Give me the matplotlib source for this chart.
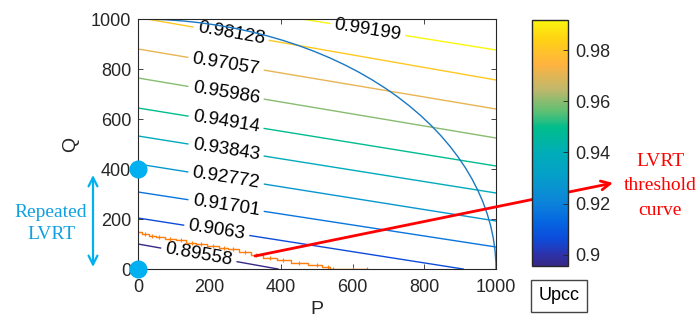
import numpy as np
import matplotlib
matplotlib.use("Agg")
import matplotlib.pyplot as plt
from matplotlib.colors import LinearSegmentedColormap, Normalize
from matplotlib.cm import ScalarMappable
from matplotlib.patches import Arc, FancyArrowPatch

# contour levels of Upcc and where each level line crosses the plot box
levels = [0.89558, 0.9063, 0.91701, 0.92772, 0.93843,
          0.94914, 0.95986, 0.97057, 0.98128, 0.99199]
line_p0 = [0, 0, 0, 0, 0, 0, 0, 0, 25, 458]
line_q0 = [100, 204, 308, 420, 532, 644, 764, 880, 1000, 1000]
line_p1 = [391, 908, 1000, 1000, 1000, 1000, 1000, 1000, 1000, 1000]
line_q1 = [0, 0, 88, 192, 304, 412, 524, 640, 756, 876]

# LVRT threshold curve
thr_p = [0, 20, 40, 60, 90, 120, 150, 175, 210, 240, 265, 300, 330,
         370, 405, 450, 500, 530, 545, 600, 640]
thr_q = [148, 140, 134, 128, 120, 115, 106, 100, 92, 86, 80, 68, 55,
         46, 36, 26, 16, 8, 2, 0, 0]

# repeated LVRT points
rep_p = [0, 0]
rep_q = [0, 400]

cbar_ticks = [0.90, 0.92, 0.94, 0.96, 0.98]
axis_ticks = [0, 200, 400, 600, 800, 1000]

# label placement along each level line (P coordinate)
label_p = [170, 220, 246, 246, 246, 246, 246, 246, 260, 642]

# parula-like colormap as seen in the colorbar
cmap = LinearSegmentedColormap.from_list("parula_like", [
    (0.00, (0.21, 0.16, 0.53)),
    (0.05, (0.17, 0.20, 0.68)),
    (0.11, (0.05, 0.30, 0.86)),
    (0.18, (0.02, 0.40, 0.88)),
    (0.26, (0.05, 0.52, 0.85)),
    (0.36, (0.02, 0.62, 0.79)),
    (0.46, (0.00, 0.68, 0.72)),
    (0.56, (0.00, 0.74, 0.55)),
    (0.63, (0.38, 0.75, 0.45)),
    (0.72, (0.76, 0.72, 0.42)),
    (0.82, (1.00, 0.70, 0.25)),
    (0.92, (1.00, 0.82, 0.08)),
    (1.00, (0.98, 0.97, 0.05)),
])
norm = Normalize(vmin=levels[0], vmax=levels[-1])

sans = "Liberation Sans"
serif = "Liberation Serif"
dark = "#262626"

fig = plt.figure(figsize=(6.97, 3.22), dpi=100)
ax = fig.add_axes([138 / 697, 1 - 269 / 322, 358 / 697, 250 / 322])
ax.set_xlim(0, 1000)
ax.set_ylim(0, 1000)

for i, lev in enumerate(levels):
    ax.plot([line_p0[i], line_p1[i]], [line_q0[i], line_q1[i]],
            color=cmap(norm(lev)), lw=1.0, zorder=1.5)

# capacity circle P^2 + Q^2 = 1000^2
ax.add_patch(Arc((0, 0), 2000, 2000, theta1=0, theta2=90,
                 color="#1a78c2", lw=1.0, zorder=2.4))

ax.plot(thr_p, thr_q, color="#ff7f0e", lw=1.0, marker="+", ms=3,
        mew=0.8, drawstyle="steps-mid", zorder=2.3)

# contour labels
fig.canvas.draw()
for i, lev in enumerate(levels):
    p0, q0, p1, q1 = line_p0[i], line_q0[i], line_p1[i], line_q1[i]
    lp = label_p[i]
    lq = q0 + (q1 - q0) * (lp - p0) / (p1 - p0)
    d0 = ax.transData.transform((p0, q0))
    d1 = ax.transData.transform((p1, q1))
    ang = np.degrees(np.arctan2(d1[1] - d0[1], d1[0] - d0[0]))
    txt = f"{lev:.5f}".rstrip("0")
    ax.text(lp, lq, txt, rotation=ang, rotation_mode="anchor",
            ha="center", va="center", fontsize=13.5, family=sans,
            color="black", zorder=2.2,
            bbox=dict(boxstyle="square,pad=0.22", fc="white", ec="none"))

ax.plot(rep_p, rep_q, "o", ms=12, color="#00b0f0", clip_on=False, zorder=6)

ax.set_xticks(axis_ticks)
ax.set_yticks(axis_ticks)
ax.tick_params(direction="in", top=True, right=True, length=3.5,
               width=0.6, color=dark, labelsize=13, labelcolor=dark)
ax.tick_params(axis="x", pad=7)
ax.tick_params(axis="y", pad=5)
for lab in ax.get_xticklabels() + ax.get_yticklabels():
    lab.set_family(sans)
for s in ax.spines.values():
    s.set_linewidth(0.8)
    s.set_color(dark)
ax.set_xlabel("P", fontsize=14, family=sans, color=dark, labelpad=4)
ax.set_ylabel("Q", fontsize=14, family=sans, color=dark, labelpad=8)

# colorbar
cax = fig.add_axes([532 / 697, 1 - 266 / 322, 36 / 697, 246.5 / 322])
cb = fig.colorbar(ScalarMappable(norm=norm, cmap=cmap), cax=cax)
cb.set_ticks(cbar_ticks)
cb.set_ticklabels([f"{t:g}" for t in cbar_ticks])
cax.tick_params(direction="in", length=3.5, width=0.6, color=dark,
                labelsize=13, labelcolor=dark, pad=5)
for lab in cax.get_yticklabels():
    lab.set_family(sans)
cb.outline.set_linewidth(1.0)
cb.outline.set_edgecolor(dark)

fig.text(559 / 697, 1 - 296 / 322, "Upcc", ha="center", va="center",
         fontsize=13, family=sans, color="black",
         bbox=dict(boxstyle="square,pad=0.42", fc="white", ec="#444444", lw=1))

# red arrow pointing to the threshold text
ax.annotate("", xy=(613 / 697, 1 - 183 / 322), xycoords="figure fraction",
            xytext=(327, 52), textcoords="data",
            arrowprops=dict(arrowstyle="->", color="red", lw=2,
                            mutation_scale=16, shrinkA=0, shrinkB=0),
            annotation_clip=False, zorder=7)
fig.text(660 / 697, 1 - 186 / 322, "LVRT\nthreshold\ncurve", color="red",
         ha="center", va="center", fontsize=14, family=serif, linespacing=1.6)

# repeated LVRT double arrow
fig.add_artist(FancyArrowPatch(
    (93 / 697, 1 - 267 / 322), (93 / 697, 1 - 175 / 322),
    transform=fig.transFigure, arrowstyle="<->", color="#00b0f0", lw=1.6,
    mutation_scale=16, shrinkA=0, shrinkB=0))
fig.text(51 / 697, 1 - 223.5 / 322, "Repeated\nLVRT", color="#0fa0e0",
         ha="center", va="center", fontsize=14, family=serif, linespacing=1.45)

fig.savefig("out.png", dpi=100)
